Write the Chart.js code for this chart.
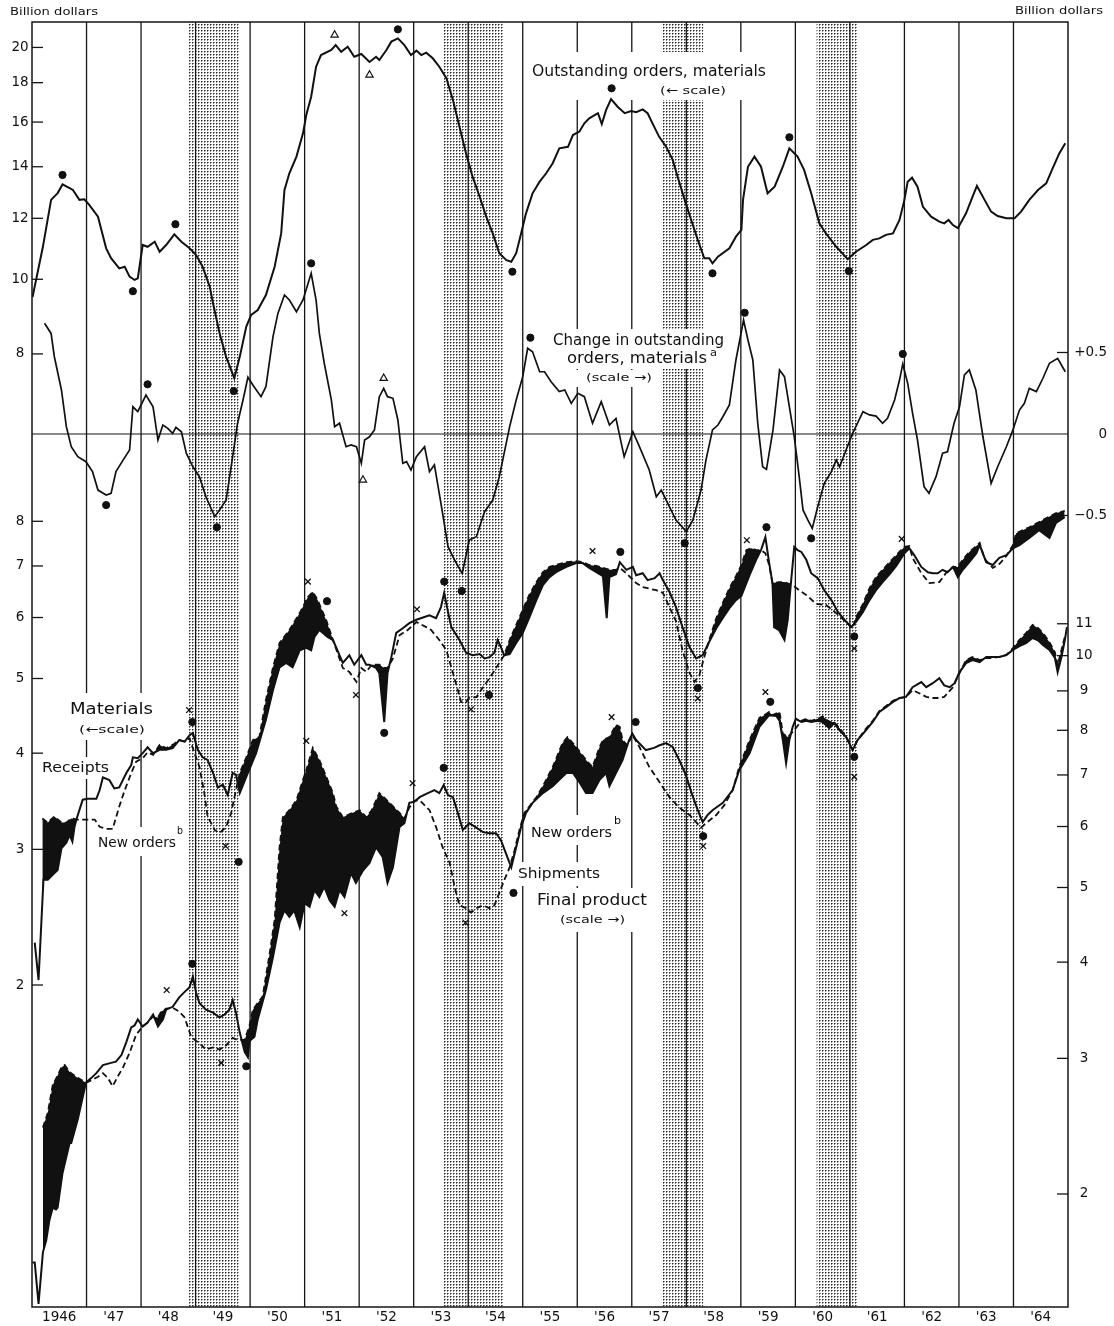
<!DOCTYPE html>
<html>
<head>
<meta charset="utf-8">
<script src="https://cdn.jsdelivr.net/npm/chart.js@4.4.0/dist/chart.umd.min.js"></script>
<style>
  html, body { margin: 0; padding: 0; background: #fff; }
  #wrap { width: 1114px; height: 1326px; }
</style>
</head>
<body>
<div id="wrap"><canvas id="chart" width="1114" height="1326"></canvas></div>
<script>
// ---------------------------------------------------------------------------
// Data: [decimal year, value]
// ---------------------------------------------------------------------------
const yearLabels = ['1946', "'47", "'48", "'49", "'50", "'51", "'52", "'53", "'54", "'55",
                    "'56", "'57", "'58", "'59", "'60", "'61", "'62", "'63", "'64"];
const firstYear = 1946;
const lastYear = 1965;
const recessions = [[1948.88, 1949.79], [1953.55, 1954.65], [1957.55, 1958.31], [1960.39, 1961.14]];

const ordersTicks = [8, 10, 12, 14, 16, 18, 20];
const materialsTicks = [2, 3, 4, 5, 6, 7, 8];
const changeTicks = [0.5, 0, -0.5];
const changeTickLabels = ['+0.5', '0', '\u22120.5'];
const productTicks = [2, 3, 4, 5, 6, 7, 8, 9, 10, 11];

// Outstanding orders, materials (left scale, upper)
const outstandingOrders = [[1946.01,9.48],[1946.20,11.02],[1946.35,12.68],[1946.47,12.94],[1946.56,13.28],[1946.69,13.13],[1946.75,13.06],[1946.87,12.68],[1946.96,12.70],[1947.05,12.49],[1947.21,12.06],[1947.36,10.97],[1947.45,10.65],[1947.60,10.33],[1947.70,10.38],[1947.79,10.08],[1947.88,9.98],[1947.94,10.03],[1948.03,11.08],[1948.12,11.02],[1948.25,11.19],[1948.34,10.86],[1948.46,11.08],[1948.61,11.44],[1948.74,11.19],[1948.89,10.97],[1949.01,10.75],[1949.13,10.38],[1949.26,9.78],[1949.32,9.31],[1949.44,8.51],[1949.56,7.93],[1949.71,7.44],[1949.81,7.93],[1949.93,8.68],[1950.02,8.99],[1950.14,9.12],[1950.29,9.54],[1950.45,10.38],[1950.57,11.47],[1950.63,13.06],[1950.72,13.73],[1950.85,14.43],[1950.97,15.47],[1951.03,16.34],[1951.12,17.26],[1951.21,18.88],[1951.30,19.55],[1951.49,19.85],[1951.57,20.14],[1951.67,19.74],[1951.79,20.05],[1951.91,19.45],[1952.04,19.61],[1952.19,19.15],[1952.31,19.45],[1952.37,19.26],[1952.50,19.85],[1952.59,20.35],[1952.71,20.55],[1952.83,20.14],[1952.95,19.55],[1953.05,19.81],[1953.14,19.55],[1953.23,19.69],[1953.35,19.36],[1953.47,18.88],[1953.60,18.24],[1953.72,17.09],[1953.84,15.78],[1953.96,14.57],[1954.08,13.59],[1954.21,12.80],[1954.33,12.06],[1954.45,11.47],[1954.57,10.81],[1954.70,10.59],[1954.79,10.54],[1954.88,10.81],[1954.97,11.47],[1955.06,12.18],[1955.18,12.93],[1955.31,13.39],[1955.43,13.73],[1955.55,14.15],[1955.67,14.79],[1955.83,14.86],[1955.92,15.39],[1956.04,15.55],[1956.13,15.94],[1956.22,16.18],[1956.38,16.43],[1956.45,15.91],[1956.53,16.59],[1956.62,17.14],[1956.74,16.75],[1956.87,16.43],[1956.99,16.54],[1957.08,16.48],[1957.20,16.62],[1957.29,16.43],[1957.38,15.94],[1957.50,15.32],[1957.63,14.86],[1957.75,14.29],[1957.84,13.59],[1957.97,12.68],[1958.09,11.94],[1958.21,11.25],[1958.33,10.65],[1958.42,10.65],[1958.48,10.49],[1958.58,10.70],[1958.79,10.97],[1958.91,11.36],[1959.01,11.59],[1959.04,12.68],[1959.13,14.00],[1959.25,14.43],[1959.37,14.00],[1959.49,12.93],[1959.62,13.19],[1959.77,14.00],[1959.89,14.79],[1960.04,14.43],[1960.16,13.87],[1960.29,12.93],[1960.44,11.82],[1960.56,11.47],[1960.75,11.02],[1960.96,10.62],[1961.11,10.86],[1961.30,11.08],[1961.42,11.25],[1961.54,11.30],[1961.66,11.42],[1961.79,11.47],[1961.91,11.94],[1962.00,12.68],[1962.06,13.39],[1962.14,13.55],[1962.24,13.19],[1962.34,12.42],[1962.49,12.06],[1962.64,11.88],[1962.73,11.82],[1962.81,11.94],[1962.89,11.76],[1962.98,11.65],[1963.13,12.18],[1963.25,12.80],[1963.33,13.22],[1963.47,12.68],[1963.59,12.24],[1963.71,12.08],[1963.87,12.00],[1964.02,12.00],[1964.14,12.24],[1964.29,12.68],[1964.45,13.06],[1964.60,13.32],[1964.72,13.94],[1964.84,14.57],[1964.95,15.02]];

// Change in outstanding orders, materials (right scale, linear)
const ordersChange = [[1946.23,0.679],[1946.35,0.617],[1946.41,0.474],[1946.54,0.270],[1946.63,0.045],[1946.72,-0.078],[1946.84,-0.139],[1946.99,-0.170],[1947.11,-0.231],[1947.21,-0.344],[1947.36,-0.374],[1947.45,-0.364],[1947.54,-0.231],[1947.67,-0.160],[1947.79,-0.098],[1947.85,0.167],[1947.94,0.137],[1948.09,0.239],[1948.22,0.167],[1948.31,-0.037],[1948.40,0.055],[1948.49,0.035],[1948.58,0.004],[1948.64,0.041],[1948.74,0.014],[1948.83,-0.118],[1948.95,-0.201],[1949.07,-0.262],[1949.19,-0.385],[1949.35,-0.507],[1949.44,-0.466],[1949.56,-0.405],[1949.68,-0.139],[1949.77,0.066],[1949.87,0.209],[1949.96,0.348],[1950.05,0.301],[1950.20,0.229],[1950.29,0.290],[1950.42,0.597],[1950.51,0.740],[1950.63,0.853],[1950.72,0.822],[1950.85,0.750],[1950.97,0.822],[1951.12,0.986],[1951.21,0.822],[1951.27,0.618],[1951.36,0.434],[1951.49,0.209],[1951.55,0.045],[1951.64,0.066],[1951.76,-0.078],[1951.85,-0.067],[1951.95,-0.078],[1952.04,-0.180],[1952.10,-0.037],[1952.19,-0.017],[1952.28,0.025],[1952.37,0.229],[1952.45,0.280],[1952.52,0.229],[1952.62,0.219],[1952.71,0.086],[1952.80,-0.180],[1952.87,-0.170],[1952.95,-0.221],[1953.05,-0.139],[1953.20,-0.078],[1953.29,-0.231],[1953.38,-0.190],[1953.50,-0.425],[1953.63,-0.691],[1953.75,-0.773],[1953.89,-0.855],[1954.02,-0.650],[1954.15,-0.630],[1954.30,-0.477],[1954.45,-0.405],[1954.57,-0.262],[1954.76,0.045],[1954.88,0.209],[1955.00,0.352],[1955.09,0.526],[1955.18,0.505],[1955.31,0.382],[1955.40,0.382],[1955.52,0.321],[1955.67,0.260],[1955.77,0.270],[1955.89,0.188],[1956.01,0.250],[1956.13,0.229],[1956.28,0.066],[1956.44,0.198],[1956.59,0.055],[1956.71,0.096],[1956.86,-0.139],[1957.02,0.014],[1957.14,-0.078],[1957.32,-0.221],[1957.45,-0.385],[1957.54,-0.344],[1957.66,-0.425],[1957.81,-0.528],[1958.00,-0.599],[1958.12,-0.528],[1958.27,-0.344],[1958.36,-0.160],[1958.48,0.025],[1958.58,0.055],[1958.67,0.106],[1958.79,0.178],[1958.91,0.454],[1959.05,0.699],[1959.13,0.577],[1959.22,0.454],[1959.31,0.066],[1959.40,-0.201],[1959.47,-0.217],[1959.59,0.025],[1959.71,0.393],[1959.80,0.352],[1959.89,0.167],[1959.98,-0.017],[1960.07,-0.262],[1960.14,-0.466],[1960.23,-0.528],[1960.31,-0.579],[1960.41,-0.446],[1960.53,-0.302],[1960.66,-0.231],[1960.75,-0.160],[1960.81,-0.201],[1960.93,-0.098],[1961.05,0.004],[1961.14,0.066],[1961.24,0.137],[1961.36,0.117],[1961.48,0.110],[1961.60,0.066],[1961.69,0.096],[1961.82,0.209],[1961.91,0.331],[1961.97,0.429],[1962.06,0.311],[1962.15,0.127],[1962.24,-0.037],[1962.36,-0.323],[1962.45,-0.364],[1962.58,-0.262],[1962.70,-0.118],[1962.79,-0.109],[1962.91,0.066],[1963.01,0.167],[1963.10,0.362],[1963.19,0.393],[1963.31,0.270],[1963.44,-0.017],[1963.59,-0.303],[1963.71,-0.201],[1963.87,-0.078],[1963.99,0.025],[1964.11,0.147],[1964.20,0.188],[1964.29,0.280],[1964.42,0.260],[1964.54,0.342],[1964.66,0.434],[1964.81,0.464],[1964.95,0.382]];

// Materials: receipts and new orders (left scale, lower)
const materialReceipts = [[1946.05,2.27],[1946.12,2.03],[1946.21,2.74],[1946.29,2.74],[1946.38,2.78],[1946.47,2.82],[1946.54,3.01],[1946.63,3.06],[1946.69,3.13],[1946.74,3.07],[1946.78,3.21],[1946.82,3.29],[1946.93,3.48],[1947.02,3.49],[1947.18,3.49],[1947.24,3.58],[1947.30,3.72],[1947.42,3.69],[1947.51,3.60],[1947.60,3.61],[1947.73,3.77],[1947.82,3.86],[1947.85,3.95],[1947.94,3.94],[1948.03,4.00],[1948.12,4.07],[1948.22,4.00],[1948.34,4.04],[1948.46,4.04],[1948.58,4.06],[1948.70,4.16],[1948.80,4.14],[1948.89,4.22],[1948.95,4.25],[1949.04,4.04],[1949.13,3.95],[1949.22,3.92],[1949.32,3.77],[1949.41,3.61],[1949.50,3.64],[1949.59,3.53],[1949.68,3.77],[1949.74,3.75],[1949.81,3.55],[1949.96,3.77],[1950.11,4.00],[1950.29,4.42],[1950.42,4.83],[1950.54,5.17],[1950.66,5.24],[1950.78,5.17],[1950.91,5.44],[1951.03,5.48],[1951.12,5.44],[1951.18,5.66],[1951.27,5.78],[1951.42,5.66],[1951.52,5.61],[1951.70,5.24],[1951.82,5.36],[1951.91,5.21],[1952.04,5.36],[1952.13,5.21],[1952.19,5.21],[1952.31,5.16],[1952.37,5.08],[1952.46,4.39],[1952.52,5.08],[1952.59,5.33],[1952.68,5.73],[1952.80,5.81],[1952.92,5.90],[1953.05,5.96],[1953.17,6.00],[1953.29,6.04],[1953.41,5.99],[1953.50,6.19],[1953.56,6.46],[1953.63,6.10],[1953.69,5.83],[1953.84,5.61],[1953.96,5.40],[1954.08,5.36],[1954.21,5.38],[1954.30,5.31],[1954.39,5.33],[1954.48,5.40],[1954.54,5.61],[1954.60,5.49],[1954.66,5.36],[1954.76,5.38],[1954.88,5.56],[1955.00,5.73],[1955.12,6.00],[1955.25,6.32],[1955.37,6.61],[1955.49,6.77],[1955.61,6.87],[1955.80,6.98],[1955.98,7.06],[1956.10,7.06],[1956.22,6.96],[1956.35,6.87],[1956.47,6.79],[1956.54,5.99],[1956.59,6.77],[1956.71,6.83],[1956.78,7.08],[1956.90,6.92],[1957.02,6.98],[1957.08,6.81],[1957.20,6.85],[1957.29,6.71],[1957.42,6.75],[1957.51,6.85],[1957.57,6.71],[1957.69,6.48],[1957.81,6.19],[1957.93,5.83],[1958.06,5.49],[1958.18,5.31],[1958.30,5.36],[1958.42,5.58],[1958.55,5.81],[1958.67,5.99],[1958.79,6.17],[1958.91,6.32],[1959.01,6.40],[1959.16,6.81],[1959.28,7.13],[1959.37,7.34],[1959.45,7.63],[1959.52,7.06],[1959.58,6.65],[1959.61,5.83],[1959.70,5.78],[1959.80,5.61],[1959.86,5.96],[1959.92,6.67],[1959.98,7.41],[1960.04,7.34],[1960.11,7.30],[1960.20,7.13],[1960.29,6.85],[1960.41,6.75],[1960.53,6.51],[1960.66,6.32],[1960.78,6.10],[1960.90,5.96],[1961.02,5.83],[1961.11,5.92],[1961.24,6.10],[1961.36,6.32],[1961.48,6.51],[1961.60,6.67],[1961.73,6.83],[1961.85,7.00],[1962.00,7.27],[1962.09,7.38],[1962.18,7.23],[1962.31,6.98],[1962.43,6.87],[1962.52,6.85],[1962.61,6.85],[1962.70,6.92],[1962.79,6.87],[1962.89,6.98],[1962.98,6.77],[1963.07,6.92],[1963.19,7.08],[1963.32,7.27],[1963.38,7.45],[1963.50,7.08],[1963.62,7.02],[1963.74,7.17],[1963.87,7.23],[1963.99,7.38],[1964.11,7.45],[1964.29,7.61],[1964.47,7.79],[1964.66,7.61],[1964.78,7.96],[1964.94,8.10]];
const materialNewOrders = [[1946.19,3.29],[1946.29,3.25],[1946.41,3.31],[1946.54,3.25],[1946.63,3.25],[1946.72,3.29],[1946.84,3.28],[1947.15,3.28],[1947.24,3.21],[1947.36,3.19],[1947.48,3.19],[1947.60,3.41],[1947.70,3.58],[1947.82,3.77],[1947.91,3.90],[1948.03,3.94],[1948.12,4.01],[1948.22,3.98],[1948.34,4.10],[1948.46,4.06],[1948.58,4.10],[1948.70,4.16],[1948.80,4.14],[1948.89,4.18],[1948.98,4.00],[1949.07,3.84],[1949.16,3.55],[1949.22,3.31],[1949.35,3.18],[1949.44,3.15],[1949.56,3.21],[1949.65,3.34],[1949.74,3.58],[1949.81,3.77],[1949.93,3.95],[1950.05,4.16],[1950.17,4.20],[1950.29,4.69],[1950.42,5.17],[1950.54,5.56],[1950.72,5.78],[1950.91,6.08],[1951.06,6.38],[1951.15,6.48],[1951.24,6.32],[1951.40,5.94],[1951.52,5.61],[1951.70,5.16],[1951.82,5.10],[1951.95,4.95],[1952.04,5.16],[1952.13,5.10],[1952.23,5.21],[1952.37,5.21],[1952.46,5.16],[1952.52,5.16],[1952.62,5.31],[1952.74,5.69],[1952.89,5.78],[1953.05,5.92],[1953.23,5.83],[1953.32,5.78],[1953.47,5.61],[1953.60,5.44],[1953.72,5.08],[1953.81,4.83],[1953.87,4.66],[1953.96,4.66],[1954.02,4.72],[1954.15,4.73],[1954.27,4.87],[1954.36,4.97],[1954.45,5.08],[1954.57,5.24],[1954.66,5.36],[1954.76,5.61],[1954.88,5.87],[1955.00,6.14],[1955.12,6.42],[1955.25,6.67],[1955.37,6.87],[1955.49,6.98],[1955.61,7.02],[1955.80,7.08],[1955.98,7.10],[1956.10,7.08],[1956.22,7.02],[1956.35,7.00],[1956.47,6.96],[1956.59,6.92],[1956.71,6.92],[1956.78,6.96],[1956.90,6.85],[1957.08,6.65],[1957.20,6.57],[1957.45,6.51],[1957.57,6.46],[1957.69,6.19],[1957.81,5.94],[1957.93,5.44],[1958.06,5.08],[1958.15,4.95],[1958.24,5.05],[1958.30,5.24],[1958.42,5.61],[1958.55,5.99],[1958.67,6.27],[1958.79,6.55],[1958.91,6.79],[1959.01,7.02],[1959.10,7.34],[1959.19,7.38],[1959.28,7.34],[1959.37,7.34],[1959.45,7.27],[1959.52,7.02],[1959.58,6.65],[1959.70,6.67],[1959.80,6.67],[1959.95,6.61],[1960.07,6.51],[1960.20,6.42],[1960.38,6.25],[1960.56,6.23],[1960.75,6.08],[1960.93,5.92],[1961.05,5.81],[1961.11,6.00],[1961.24,6.25],[1961.36,6.55],[1961.48,6.77],[1961.60,6.92],[1961.73,7.08],[1961.85,7.23],[1962.00,7.41],[1962.09,7.43],[1962.15,7.17],[1962.31,6.85],[1962.46,6.65],[1962.64,6.67],[1962.76,6.85],[1962.89,6.98],[1962.98,6.98],[1963.07,7.13],[1963.19,7.30],[1963.32,7.43],[1963.38,7.50],[1963.47,7.15],[1963.62,6.96],[1963.74,7.04],[1963.87,7.21],[1963.99,7.45],[1964.05,7.72],[1964.29,7.86],[1964.54,8.03],[1964.78,8.20],[1964.94,8.25]];

// Final product: shipments and new orders (right scale)
const productShipments = [[1946.01,1.63],[1946.05,1.63],[1946.12,1.44],[1946.20,1.68],[1946.26,1.74],[1946.32,1.85],[1946.38,1.92],[1946.44,1.91],[1946.47,1.92],[1946.56,2.13],[1946.69,2.33],[1946.72,2.33],[1946.84,2.50],[1946.93,2.67],[1946.99,2.79],[1947.09,2.83],[1947.18,2.87],[1947.30,2.94],[1947.45,2.96],[1947.54,2.97],[1947.64,3.03],[1947.73,3.15],[1947.82,3.29],[1947.88,3.31],[1947.94,3.37],[1948.03,3.30],[1948.12,3.34],[1948.22,3.42],[1948.31,3.30],[1948.40,3.37],[1948.46,3.47],[1948.58,3.50],[1948.70,3.60],[1948.80,3.66],[1948.89,3.71],[1948.95,3.83],[1949.01,3.65],[1949.07,3.54],[1949.19,3.47],[1949.32,3.44],[1949.44,3.39],[1949.53,3.42],[1949.62,3.47],[1949.68,3.57],[1949.74,3.44],[1949.81,3.24],[1949.90,3.06],[1949.96,3.01],[1949.99,3.16],[1950.08,3.20],[1950.14,3.37],[1950.29,3.68],[1950.42,4.06],[1950.54,4.50],[1950.63,4.67],[1950.72,4.58],[1950.81,4.67],[1950.91,4.44],[1951.00,4.77],[1951.09,4.72],[1951.18,4.96],[1951.27,4.86],[1951.36,5.01],[1951.46,4.81],[1951.55,4.72],[1951.64,4.96],[1951.73,4.86],[1951.85,5.22],[1951.94,5.07],[1952.07,5.26],[1952.19,5.38],[1952.31,5.64],[1952.43,5.48],[1952.52,5.07],[1952.62,5.31],[1952.74,5.99],[1952.83,6.06],[1952.92,6.44],[1953.01,6.46],[1953.11,6.55],[1953.26,6.63],[1953.38,6.69],[1953.47,6.63],[1953.55,6.79],[1953.63,6.59],[1953.72,6.55],[1953.81,6.25],[1953.90,5.94],[1954.02,6.06],[1954.15,5.98],[1954.27,5.90],[1954.39,5.88],[1954.51,5.88],[1954.60,5.76],[1954.69,5.54],[1954.79,5.31],[1954.88,5.64],[1954.97,5.99],[1955.06,6.25],[1955.18,6.44],[1955.37,6.63],[1955.55,6.77],[1955.67,6.90],[1955.80,7.04],[1955.92,7.04],[1956.04,6.85],[1956.16,6.63],[1956.28,6.63],[1956.41,6.90],[1956.53,7.04],[1956.59,6.77],[1956.71,7.04],[1956.83,7.32],[1956.95,7.77],[1957.01,7.92],[1957.08,7.77],[1957.26,7.54],[1957.41,7.59],[1957.51,7.65],[1957.63,7.70],[1957.75,7.61],[1957.87,7.32],[1957.99,7.00],[1958.11,6.59],[1958.21,6.30],[1958.30,6.08],[1958.39,6.21],[1958.48,6.30],[1958.67,6.44],[1958.85,6.69],[1958.97,7.10],[1959.16,7.47],[1959.34,8.08],[1959.52,8.37],[1959.65,8.35],[1959.71,8.23],[1959.77,7.77],[1959.83,7.25],[1959.89,7.77],[1959.95,8.08],[1960.01,8.28],[1960.11,8.20],[1960.20,8.23],[1960.29,8.20],[1960.41,8.23],[1960.50,8.20],[1960.62,8.05],[1960.71,8.17],[1960.81,8.00],[1960.93,7.84],[1961.05,7.54],[1961.14,7.77],[1961.27,7.96],[1961.42,8.20],[1961.54,8.45],[1961.67,8.58],[1961.79,8.71],[1961.91,8.81],[1962.03,8.84],[1962.15,9.10],[1962.31,9.24],[1962.40,9.10],[1962.52,9.21],[1962.64,9.35],[1962.73,9.15],[1962.83,9.10],[1962.92,9.21],[1963.01,9.52],[1963.13,9.78],[1963.25,9.87],[1963.38,9.81],[1963.50,9.96],[1963.62,9.96],[1963.74,9.96],[1963.87,10.02],[1963.99,10.17],[1964.11,10.29],[1964.23,10.38],[1964.35,10.54],[1964.45,10.47],[1964.54,10.32],[1964.66,10.17],[1964.76,9.93],[1964.81,9.52],[1964.88,9.96],[1964.94,10.45],[1964.98,10.89]];
const productNewOrders = [[1946.20,2.44],[1946.29,2.55],[1946.38,2.77],[1946.47,2.85],[1946.54,2.92],[1946.60,2.94],[1946.69,2.88],[1946.84,2.83],[1946.99,2.79],[1947.09,2.81],[1947.21,2.84],[1947.30,2.87],[1947.39,2.83],[1947.48,2.76],[1947.57,2.84],[1947.67,2.92],[1947.79,3.05],[1947.91,3.22],[1948.03,3.30],[1948.12,3.34],[1948.22,3.40],[1948.31,3.39],[1948.37,3.45],[1948.46,3.48],[1948.58,3.49],[1948.70,3.45],[1948.80,3.39],[1948.86,3.29],[1948.92,3.20],[1949.01,3.16],[1949.07,3.14],[1949.19,3.08],[1949.32,3.10],[1949.44,3.08],[1949.56,3.12],[1949.68,3.19],[1949.77,3.17],[1949.90,3.17],[1949.99,3.31],[1950.05,3.47],[1950.23,3.61],[1950.36,4.11],[1950.45,4.54],[1950.54,5.64],[1950.60,6.17],[1950.72,6.30],[1950.85,6.49],[1950.97,6.90],[1951.03,7.10],[1951.15,7.59],[1951.27,7.32],[1951.42,6.90],[1951.52,6.63],[1951.58,6.37],[1951.70,6.17],[1951.88,6.25],[1952.01,6.30],[1952.13,6.17],[1952.23,6.30],[1952.37,6.63],[1952.56,6.44],[1952.74,6.25],[1952.83,6.15],[1952.92,6.35],[1953.01,6.48],[1953.11,6.49],[1953.29,6.30],[1953.41,5.99],[1953.53,5.64],[1953.66,5.38],[1953.75,5.01],[1953.84,4.74],[1953.96,4.70],[1954.05,4.64],[1954.15,4.70],[1954.27,4.74],[1954.39,4.70],[1954.48,4.74],[1954.57,4.92],[1954.66,5.11],[1954.76,5.31],[1954.85,5.59],[1954.94,5.94],[1955.03,6.25],[1955.12,6.37],[1955.25,6.55],[1955.37,6.77],[1955.55,7.17],[1955.73,7.70],[1955.82,7.84],[1955.98,7.61],[1956.16,7.32],[1956.28,7.17],[1956.41,7.61],[1956.47,7.77],[1956.59,7.84],[1956.71,8.13],[1956.78,8.08],[1956.83,7.77],[1956.92,7.65],[1957.01,7.89],[1957.14,7.61],[1957.32,7.17],[1957.51,6.85],[1957.69,6.55],[1957.87,6.35],[1958.06,6.21],[1958.18,6.08],[1958.27,5.98],[1958.36,6.06],[1958.55,6.21],[1958.70,6.40],[1958.85,6.69],[1958.97,7.17],[1959.16,7.77],[1959.34,8.30],[1959.43,8.37],[1959.52,8.45],[1959.58,8.37],[1959.71,8.45],[1959.77,7.92],[1959.86,7.84],[1959.98,8.00],[1960.11,8.23],[1960.20,8.28],[1960.29,8.23],[1960.41,8.28],[1960.50,8.34],[1960.62,8.20],[1960.71,8.20],[1960.81,8.05],[1960.93,7.86],[1961.05,7.54],[1961.14,7.77],[1961.27,8.00],[1961.42,8.23],[1961.54,8.47],[1961.67,8.61],[1961.79,8.74],[1961.91,8.81],[1962.03,8.84],[1962.15,9.02],[1962.31,8.91],[1962.40,8.84],[1962.52,8.81],[1962.64,8.81],[1962.73,8.84],[1962.89,9.10],[1962.95,9.30],[1963.13,9.87],[1963.25,9.96],[1963.38,9.87],[1963.50,9.93],[1963.62,9.93],[1963.74,9.96],[1963.87,10.02],[1963.99,10.23],[1964.11,10.48],[1964.23,10.70],[1964.35,10.96],[1964.45,10.86],[1964.54,10.70],[1964.66,10.41],[1964.76,10.10],[1964.81,9.72],[1964.88,10.17],[1964.94,10.57]];

// Turning point markers
const ordersTurnDots = [[1946.56,13.66],[1947.85,9.65],[1948.63,11.79],[1949.70,7.16],[1952.71,21.11],[1954.81,10.23],[1956.63,17.70],[1958.48,10.18],[1959.89,15.29],[1960.98,10.25]];
const ordersTurnTriangles = [[1951.55,20.76],[1952.19,18.42]];
const changeTurnDots = [[1947.36,-0.436],[1948.12,0.305],[1949.39,-0.572],[1951.12,1.047],[1953.88,-0.963],[1955.14,0.591],[1957.97,-0.67],[1959.07,0.744],[1960.29,-0.64],[1961.97,0.491]];
const changeTurnTriangles = [[1952.45,0.342],[1952.07,-0.282]];
const materialOrderTurns = [[1948.88,4.55],[1949.55,3.03],[1951.06,6.68],[1951.94,4.76],[1953.06,6.15],[1954.05,4.56],[1956.28,7.32],[1958.21,4.71],[1959.11,7.56],[1961.08,5.47],[1961.95,7.59]];
const materialReceiptTurns = [[1948.94,4.39],[1949.79,2.89],[1951.41,6.30],[1952.46,4.25],[1953.56,6.68],[1954.38,4.76],[1956.79,7.30],[1958.21,4.86],[1959.47,7.86],[1961.08,5.67]];
const productOrderTurns = [[1948.47,3.68],[1949.47,2.96],[1951.03,7.75],[1951.73,4.63],[1952.98,6.83],[1953.95,4.50],[1956.63,8.32],[1958.31,5.66],[1959.45,8.97],[1961.08,6.96]];
const productShipmentTurns = [[1948.94,3.98],[1949.93,2.93],[1953.55,7.15],[1954.83,4.92],[1957.07,8.20],[1958.31,5.83],[1959.54,8.71],[1961.08,7.39]];

// ---------------------------------------------------------------------------
const FONT = '"DejaVu Sans", sans-serif';
const pts = arr => arr.map(([x, y]) => ({ x, y }));

// stipple pattern for the recession bands
const stipple = (() => {
    const c = document.createElement('canvas');
    c.width = 3; c.height = 3;
    const g = c.getContext('2d');
    g.fillStyle = '#fff';
    g.fillRect(0, 0, 3, 3);
    g.fillStyle = '#2a2a2a';
    g.fillRect(0, 0, 1, 1);
    g.fillStyle = '#8a8a8a';
    g.fillRect(1, 0, 1, 1);
    g.fillRect(0, 1, 1, 1);
    return c;
})();

function strokeLine(ctx, x0, y0, x1, y1) {
    ctx.beginPath();
    ctx.moveTo(x0, y0);
    ctx.lineTo(x1, y1);
    ctx.stroke();
}

// text squeezed to the width it has in the original
function fitText(ctx, text, x0, x1, cy, size) {
    ctx.font = `${size}px ${FONT}`;
    const w = ctx.measureText(text).width;
    ctx.save();
    ctx.translate(x0, cy);
    ctx.scale((x1 - x0) / w, 1);
    ctx.textAlign = 'left';
    ctx.textBaseline = 'middle';
    ctx.fillText(text, 0, 0);
    ctx.restore();
}

const seriesLabels = [
    { box: [527, 52, 771, 100], lines: [
        ['Outstanding orders, materials', 532, 766, 72, 15],
        ['(\u2190 scale)', 660, 726, 91, 11]] },
    { box: [548, 329, 729, 351], lines: [['Change in outstanding', 553, 724, 341, 15]] },
    { box: [562, 349, 719, 369], lines: [['orders, materials', 567, 707, 359, 15], ['a', 710, 717, 353, 10]] },
    { box: [575, 370, 659, 387], lines: [['(scale \u2192)', 586, 652, 378, 11]] },
    { box: [65, 693, 158, 740], lines: [
        ['Materials', 70, 153, 710, 15],
        ['(\u2190scale)', 79, 145, 730, 11]] },
    { box: [38, 757, 113, 779], lines: [['Receipts', 42, 109, 768, 14]] },
    { box: [94, 827, 188, 856], lines: [['New orders', 98, 176, 843, 14], ['b', 177, 183, 831, 10]] },
    { box: [527, 815, 625, 845], lines: [['New orders', 531, 612, 833, 14], ['b', 614, 621, 821, 10]] },
    { box: [514, 862, 604, 886], lines: [['Shipments', 518, 600, 874, 14]] },
    { box: [533, 888, 651, 932], lines: [
        ['Final product', 537, 647, 901, 15],
        ['(scale \u2192)', 560, 625, 920, 11]] }
];

const decorations = {
    id: 'decorations',
    beforeDatasetsDraw(chart) {
        const { ctx, chartArea: a, scales } = chart;
        const xs = scales.x;
        ctx.save();

        // recession shading
        ctx.fillStyle = ctx.createPattern(stipple, 'repeat');
        recessions.forEach(([s, e]) => {
            const x0 = xs.getPixelForValue(s);
            const x1 = xs.getPixelForValue(e);
            ctx.fillRect(x0, a.top, x1 - x0, a.bottom - a.top);
        });

        // year lines and frame
        ctx.strokeStyle = '#151515';
        ctx.lineWidth = 1.3;
        for (let yr = firstYear + 1; yr < lastYear; yr++) {
            const px = xs.getPixelForValue(yr);
            strokeLine(ctx, px, a.top, px, a.bottom);
        }
        ctx.lineWidth = 1.5;
        ctx.strokeRect(a.left, a.top, a.right - a.left, a.bottom - a.top);

        // zero line of the change series
        const y0 = scales.yChange.getPixelForValue(0);
        ctx.lineWidth = 1.2;
        strokeLine(ctx, a.left, y0, a.right, y0);

        // tick marks
        ctx.lineWidth = 1.3;
        ordersTicks.forEach(v => {
            const py = scales.yOrders.getPixelForValue(v);
            strokeLine(ctx, a.left, py, a.left + 11, py);
        });
        materialsTicks.forEach(v => {
            const py = scales.yMaterials.getPixelForValue(v);
            strokeLine(ctx, a.left, py, a.left + 11, py);
        });
        changeTicks.forEach(v => {
            if (v === 0) return;
            const py = scales.yChange.getPixelForValue(v);
            strokeLine(ctx, a.right - 11, py, a.right, py);
        });
        productTicks.forEach(v => {
            const py = scales.yProduct.getPixelForValue(v);
            strokeLine(ctx, a.right - 11, py, a.right, py);
        });

        // series labels on white patches
        seriesLabels.forEach(lbl => {
            const [bx0, by0, bx1, by1] = lbl.box;
            ctx.fillStyle = '#fff';
            ctx.fillRect(bx0, by0, bx1 - bx0, by1 - by0);
            ctx.fillStyle = '#111';
            lbl.lines.forEach(([t, x0, x1, cy, size]) => fitText(ctx, t, x0, x1, cy, size));
        });
        ctx.restore();
    },
    afterDraw(chart) {
        const { ctx, scales } = chart;
        ctx.save();
        ctx.fillStyle = '#111';
        ctx.textBaseline = 'middle';
        ctx.font = `13.5px ${FONT}`;

        ctx.textAlign = 'center';
        ordersTicks.forEach(v => ctx.fillText(String(v), 20, scales.yOrders.getPixelForValue(v)));
        materialsTicks.forEach(v => ctx.fillText(String(v), 20, scales.yMaterials.getPixelForValue(v)));
        productTicks.forEach(v => ctx.fillText(String(v), 1084, scales.yProduct.getPixelForValue(v)));
        ctx.textAlign = 'right';
        changeTicks.forEach((v, i) => ctx.fillText(changeTickLabels[i], 1107, scales.yChange.getPixelForValue(v)));

        // year labels centred in each year
        ctx.textAlign = 'center';
        ctx.font = `13.5px ${FONT}`;
        yearLabels.forEach((t, i) => {
            ctx.fillText(t, scales.x.getPixelForValue(firstYear + i + 0.5), 1317);
        });

        fitText(ctx, 'Billion dollars', 10, 98, 12, 11);
        fitText(ctx, 'Billion dollars', 1015, 1103, 11, 11);
        ctx.restore();
    }
};

const lineStyle = {
    pointRadius: 0,
    tension: 0,
    borderColor: '#111',
    fill: false
};
const markers = (data, yAxisID, style) => Object.assign({
    data: pts(data),
    yAxisID,
    showLine: false,
    pointRadius: 3.6,
    pointBackgroundColor: '#111',
    pointBorderColor: '#111',
    pointBorderWidth: 1
}, style);
const cross = { pointStyle: 'crossRot', pointRadius: 4, pointBorderWidth: 1.3 };
const triangle = { pointStyle: 'triangle', pointRadius: 4.2, pointBackgroundColor: '#fff', pointBorderWidth: 1.2 };

const chart = new Chart(document.getElementById('chart'), {
    type: 'line',
    data: {
        datasets: [
            Object.assign({ data: pts(outstandingOrders), yAxisID: 'yOrders', borderWidth: 2 }, lineStyle),
            Object.assign({ data: pts(ordersChange), yAxisID: 'yChange', borderWidth: 1.7 }, lineStyle),
            Object.assign({ data: pts(materialReceipts), yAxisID: 'yMaterials', borderWidth: 2 }, lineStyle),
            Object.assign({}, lineStyle, {
                data: pts(materialNewOrders), yAxisID: 'yMaterials', borderWidth: 1.8,
                borderDash: [6, 3.5],
                fill: { target: 2, above: '#111', below: 'rgba(0,0,0,0)' }
            }),
            Object.assign({ data: pts(productShipments), yAxisID: 'yProduct', borderWidth: 2 }, lineStyle),
            Object.assign({}, lineStyle, {
                data: pts(productNewOrders), yAxisID: 'yProduct', borderWidth: 1.8,
                borderDash: [6, 3.5],
                fill: { target: 4, above: '#111', below: 'rgba(0,0,0,0)' }
            }),
            markers(ordersTurnDots, 'yOrders', {}),
            markers(ordersTurnTriangles, 'yOrders', triangle),
            markers(changeTurnDots, 'yChange', {}),
            markers(changeTurnTriangles, 'yChange', triangle),
            markers(materialOrderTurns, 'yMaterials', cross),
            markers(materialReceiptTurns, 'yMaterials', {}),
            markers(productOrderTurns, 'yProduct', cross),
            markers(productShipmentTurns, 'yProduct', {})
        ]
    },
    options: {
        responsive: false,
        animation: false,
        devicePixelRatio: 1,
        layout: { padding: { left: 32, right: 46, top: 22, bottom: 19 } },
        plugins: {
            legend: { display: false },
            tooltip: { enabled: false }
        },
        events: [],
        scales: {
            x: { type: 'linear', min: firstYear, max: lastYear, display: false, bounds: 'data' },
            // log axes share one pixels-per-decade ratio, placed where the printed ticks sit
            yOrders: { type: 'logarithmic', min: 0.4631, max: 21.58, display: false, bounds: 'data' },
            yMaterials: { type: 'logarithmic', min: 0.7638, max: 35.59, display: false, bounds: 'data' },
            yProduct: { type: 'logarithmic', min: 1.4266, max: 66.48, display: false, bounds: 'data' },
            yChange: { type: 'linear', min: -5.3558, max: 2.5276, display: false, bounds: 'data' }
        }
    },
    plugins: [decorations]
});
</script>
</body>
</html>
